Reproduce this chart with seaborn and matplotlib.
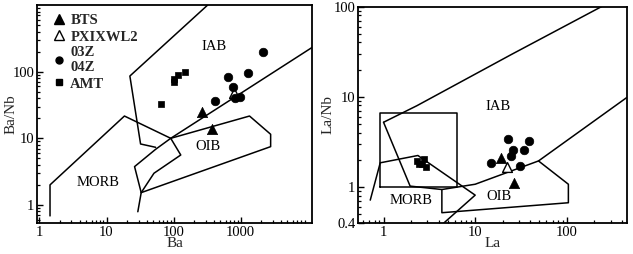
import matplotlib
matplotlib.use("Agg")
import matplotlib.pyplot as plt
import seaborn as sns
import pandas as pd
from matplotlib.lines import Line2D
from matplotlib.ticker import LogLocator, NullFormatter, FixedLocator, FixedFormatter

# ---------------- data: Ba/Nb vs Ba ----------------
bts_ba = [261, 374]
bts_banb = [25.1, 13.6]
px_ba = [790]
px_banb = [48.4]
z_ba = [2150, 657, 1281, 781, 419, 827, 994]
z_banb = [200, 84.1, 94.4, 58.2, 36.3, 39.8, 42.2]
amt_ba = [64.2, 100.6, 100.6, 116.8, 147]
amt_banb = [32.4, 70.8, 77.6, 89.1, 100]

# field boundaries (Ba, Ba/Nb)
iab_left_x = [322, 22.3, 32.2, 54]
iab_left_y = [1000, 86.1, 8.22, 7.33]
diag_x = [29.3, 32.9, 26.2, 54, 90.7, 12000]
diag_y = [0.79, 1.53, 3.76, 6.84, 10, 236]
morb1_x = [1.437, 1.437, 18.5, 90.7, 128, 51, 32.9]
morb1_y = [0.684, 2.0, 21.6, 10, 5.62, 2.99, 1.53]
oib1_x = [90.7, 1357, 2803, 2803, 32.9]
oib1_y = [10, 21.6, 11.5, 7.5, 1.53]

# ---------------- data: La/Nb vs La ----------------
bts_la = [19.05, 26.2]
bts_lanb = [2.09, 1.11]
px_la = [22.1]
px_lanb = [1.66]
z_la = [23.1, 38.8, 25.8, 34.2, 24.7, 14.8, 31.0]
z_lanb = [3.41, 3.22, 2.58, 2.58, 2.22, 1.82, 1.69]
amt_la = [2.3, 2.45, 2.6, 2.75, 2.9]
amt_lanb = [1.95, 1.8, 1.78, 2.03, 1.65]

up_x = [1, 2.31, 25.1, 262]
up_y = [5.21, 7.95, 29.6, 105]
low_x = [1, 1.95, 4.33, 10, 49.1, 451]
low_y = [5.21, 1.02, 0.935, 1.07, 1.94, 9.8]
box_x = [0.92, 6.3, 6.3, 0.92, 0.92]
box_y = [1, 1, 6.55, 6.55, 1]
morb2_x = [0.716, 0.92, 2.37, 10, 4.33]
morb2_y = [0.713, 1.85, 2.23, 0.81, 0.38]
oib2_x = [4.33, 4.33, 104, 104, 49.1]
oib2_y = [0.935, 0.517, 0.667, 1.07, 1.94]

sns.set_style("white")
plt.rcParams['font.family'] = ['Liberation Serif', 'DejaVu Serif']

fig = plt.figure(figsize=(6.33, 2.54), dpi=100)
ax1 = fig.add_axes([0.059, 0.123, 0.4335, 0.857])
ax2 = fig.add_axes([0.566, 0.123, 0.424, 0.851])

LW = 1.1

def draw_line(ax, xs, ys):
    df = pd.DataFrame({"x": xs, "y": ys})
    sns.lineplot(data=df, x="x", y="y", sort=False, estimator=None,
                 color="black", lw=LW, ax=ax)

def draw_points(ax, bx, by, px, py, zx, zy, ax_, ay):
    sns.scatterplot(x=bx, y=by, marker="^", s=55, color="black",
                    edgecolor="black", linewidth=0.5, ax=ax, zorder=5)
    sns.scatterplot(x=px, y=py, marker="^", s=50, facecolor="white",
                    edgecolor="black", linewidth=1.0, ax=ax, zorder=5)
    sns.scatterplot(x=zx, y=zy, marker="o", s=38, color="black",
                    edgecolor="black", linewidth=0.5, ax=ax, zorder=5)
    sns.scatterplot(x=ax_, y=ay, marker="s", s=16, color="black",
                    edgecolor="black", linewidth=0.5, ax=ax, zorder=5)

# ---- left panel
for xs, ys in [(iab_left_x, iab_left_y), (diag_x, diag_y),
               (morb1_x, morb1_y), (oib1_x, oib1_y)]:
    draw_line(ax1, xs, ys)
draw_points(ax1, bts_ba, bts_banb, px_ba, px_banb, z_ba, z_banb, amt_ba, amt_banb)

# ---- right panel
for xs, ys in [(up_x, up_y), (low_x, low_y), (box_x, box_y),
               (morb2_x, morb2_y), (oib2_x, oib2_y)]:
    draw_line(ax2, xs, ys)
draw_points(ax2, bts_la, bts_lanb, px_la, px_lanb, z_la, z_lanb, amt_la, amt_lanb)

for ax in (ax1, ax2):
    ax.set_xscale("log")
    ax.set_yscale("log")
    for sp in ax.spines.values():
        sp.set_color("black")
        sp.set_linewidth(1.3)
    ax.tick_params(axis="both", which="both", direction="in",
                   bottom=True, left=True, top=False, right=False,
                   labelsize=10.5, pad=2, colors="black")
    ax.tick_params(which="major", length=4.5, width=1.0)
    ax.tick_params(which="minor", length=2.5, width=0.9)
    ax.xaxis.set_minor_locator(LogLocator(base=10, subs=range(2, 10), numticks=20))
    ax.yaxis.set_minor_locator(LogLocator(base=10, subs=range(2, 10), numticks=20))
    ax.xaxis.set_minor_formatter(NullFormatter())
    ax.yaxis.set_minor_formatter(NullFormatter())

ax1.set_xlim(0.93, 11500)
ax1.set_ylim(0.54, 1000)
ax1.xaxis.set_major_locator(FixedLocator([1, 10, 100, 1000]))
ax1.xaxis.set_major_formatter(FixedFormatter(["1", "10", "100", "1000"]))
ax1.yaxis.set_major_locator(FixedLocator([1, 10, 100]))
ax1.yaxis.set_major_formatter(FixedFormatter(["1", "10", "100"]))
ax1.set_xlabel("Ba", fontsize=11, labelpad=-1)
ax1.set_ylabel("Ba/Nb", fontsize=11)
ax1.yaxis.set_label_coords(-0.074, 0.5)

ax2.set_xlim(0.53, 450)
ax2.set_ylim(0.4, 100)
ax2.xaxis.set_major_locator(FixedLocator([1, 10, 100]))
ax2.xaxis.set_major_formatter(FixedFormatter(["1", "10", "100"]))
ax2.yaxis.set_major_locator(FixedLocator([0.4, 1, 10, 100]))
ax2.yaxis.set_major_formatter(FixedFormatter(["0.4", "1", "10", "100"]))
ax2.set_xlabel("La", fontsize=11, labelpad=-1)
ax2.set_ylabel("La/Nb", fontsize=11)
ax2.yaxis.set_label_coords(-0.087, 0.5)

# region labels
for ax, items in [(ax1, [("IAB", 405, 237), ("OIB", 322, 7.5), ("MORB", 7.37, 2.16)]),
                  (ax2, [("IAB", 18, 7.76), ("OIB", 18.4, 0.776), ("MORB", 1.99, 0.713)])]:
    for t, x, y in items:
        ax.text(x, y, t, fontsize=10.5, ha="center", va="center", color="black")

# legend
handles = [
    Line2D([], [], ls="none", marker="^", color="black", markersize=6.5),
    Line2D([], [], ls="none", marker="^", markerfacecolor="white",
           markeredgecolor="black", markersize=6.5),
    Line2D([], [], ls="none", marker="o", color="black", markersize=5),
    Line2D([], [], ls="none", marker="s", color="black", markersize=4),
]
labels = ["BTS", "PXIXWL2", "03Z\n04Z", "AMT"]
ax1.legend(handles, labels, loc="upper left", frameon=False,
           prop={"family": "Liberation Serif", "weight": "bold", "size": 10.5},
           handletextpad=0.3, handlelength=0.9, labelspacing=0.2,
           borderaxespad=0.0, bbox_to_anchor=(0.035, 0.985))

fig.savefig("out.png", dpi=100)
